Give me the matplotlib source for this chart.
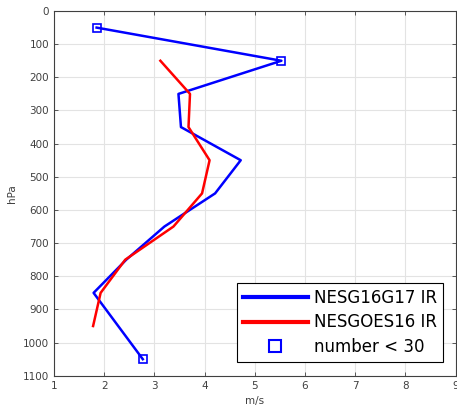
import matplotlib
matplotlib.use("Agg")
import matplotlib.pyplot as plt
from matplotlib.lines import Line2D

# ----------------------------
# Data
# ----------------------------
pres_g16g17 = [50, 150, 250, 350, 450, 550, 650, 750, 850, 950, 1050]
speed_g16g17 = [1.85, 5.53, 3.48, 3.53, 4.72, 4.21, 3.2, 2.44, 1.79, 2.28, 2.77]

pres_goes16 = [150, 250, 350, 450, 550, 650, 750, 850, 950]
speed_goes16 = [3.12, 3.71, 3.68, 4.1, 3.95, 3.38, 2.42, 1.93, 1.78]

# levels where the sample count is below 30
low_count_pres = [50, 150, 1050]
low_count_speed = [1.85, 5.53, 2.77]

xticks = [1, 2, 3, 4, 5, 6, 7, 8, 9]
yticks = [0, 100, 200, 300, 400, 500, 600, 700, 800, 900, 1000, 1100]

# ----------------------------
# Plot
# ----------------------------
fig = plt.figure(figsize=(4.57, 4.08), dpi=100)
ax = fig.add_axes([0.118, 0.079, 0.879, 0.894])

ax.plot(speed_g16g17, pres_g16g17, color='#0000ff', lw=1.8, zorder=3)
ax.plot(speed_goes16, pres_goes16, color='#ff0000', lw=1.8, zorder=3)
ax.plot(low_count_speed, low_count_pres, ls='none', marker='s', ms=5.5,
        mfc='none', mec='#0000ff', mew=1.2, zorder=4)

ax.set_xlim(1, 9)
ax.set_ylim(1100, 0)
ax.set_xticks(xticks)
ax.set_yticks(yticks)
ax.grid(True, color='#e3e3e3', lw=0.8)
ax.set_axisbelow(True)
ax.tick_params(direction='in', top=True, right=True, labelsize=7.5,
               colors='#404040', length=3, width=0.6)
for s in ax.spines.values():
    s.set_color('#404040')
    s.set_linewidth(0.8)
ax.set_xlabel('m/s', fontsize=7.5, color='#404040')
ax.set_ylabel('hPa', fontsize=7.5, color='#404040')

handles = [Line2D([], [], color='#0000ff', lw=3),
           Line2D([], [], color='#ff0000', lw=3),
           Line2D([], [], ls='none', marker='s', ms=9, mfc='none',
                  mec='#0000ff', mew=1.5)]
labels = ['NESG16G17 IR', 'NESGOES16 IR', 'number < 30']
leg = ax.legend(handles, labels, loc='lower right', bbox_to_anchor=(0.969, 0.038),
                borderaxespad=0, fontsize=12, handlelength=3.9, labelspacing=0.4,
                handletextpad=0.4, borderpad=0.35, fancybox=False,
                framealpha=1, edgecolor='black')
leg.get_frame().set_linewidth(0.8)

plt.savefig('out.png', dpi=100)
